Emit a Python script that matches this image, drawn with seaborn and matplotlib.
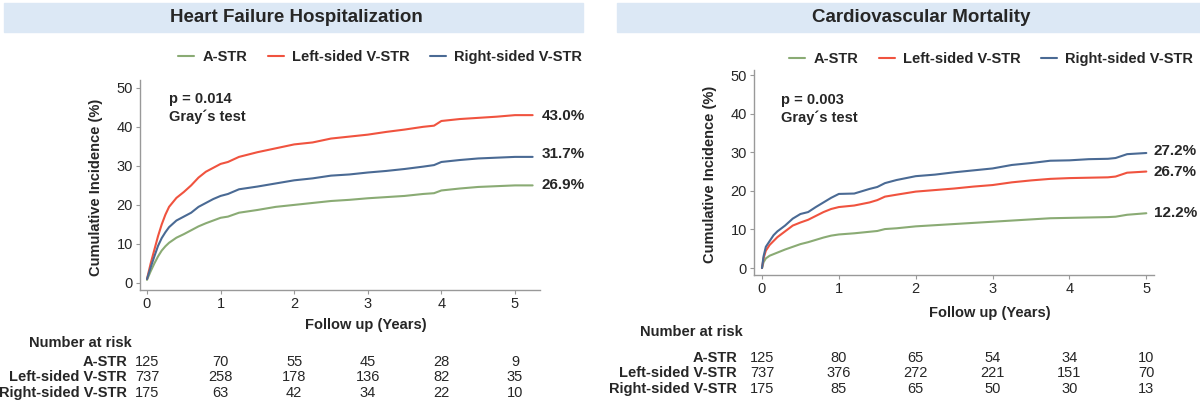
import pandas as pd
import matplotlib
matplotlib.use('Agg')
import matplotlib.pyplot as plt
import seaborn as sns
from matplotlib.patches import Rectangle

groups = ['A-STR', 'Left-sided V-STR', 'Right-sided V-STR']
colors = ['#8aab74', '#f0533f', '#4a6a94']
years = [0, 1, 2, 3, 4, 5]

# Heart failure hospitalization
t_hf = [0, 0.05, 0.1, 0.15, 0.2, 0.25, 0.3, 0.4, 0.5, 0.6, 0.7, 0.8, 0.9, 1.0, 1.1,
        1.25, 1.5, 1.75, 2.0, 2.25, 2.5, 2.75, 3.0, 3.25, 3.5, 3.75, 3.9, 4.0, 4.25,
        4.5, 4.75, 5.0, 5.24]
hf_astr = [0.8, 3, 5, 6.8, 8.3, 9.4, 10.3, 11.6, 12.5, 13.5, 14.5, 15.3, 16, 16.7, 17,
           18, 18.7, 19.5, 20, 20.5, 21, 21.3, 21.7, 22, 22.3, 22.8, 23, 23.7, 24.2,
           24.6, 24.8, 25, 25]
hf_left = [1, 5, 8.5, 12, 15, 17.5, 19.5, 21.8, 23.3, 25, 27, 28.5, 29.5, 30.5, 31,
           32.3, 33.5, 34.5, 35.5, 36, 37, 37.5, 38, 38.7, 39.3, 40, 40.3, 41.5, 42,
           42.3, 42.6, 43, 43]
hf_right = [1, 4, 6.8, 9.5, 11.5, 13, 14.3, 16, 17, 18, 19.5, 20.5, 21.5, 22.3, 22.8,
            24, 24.7, 25.5, 26.3, 26.8, 27.5, 27.8, 28.3, 28.7, 29.2, 29.8, 30.2, 31,
            31.5, 31.9, 32.1, 32.3, 32.3]
hf_end_labels = ['26.9%', '43.0%', '31.7%']
hf_risk = [[125, 70, 55, 45, 28, 9],
           [737, 258, 178, 136, 82, 35],
           [175, 63, 42, 34, 22, 10]]

# Cardiovascular mortality
t_cv = [0, 0.02, 0.05, 0.1, 0.15, 0.2, 0.3, 0.4, 0.5, 0.6, 0.7, 0.8, 0.9, 1.0, 1.2,
        1.4, 1.5, 1.6, 1.75, 2.0, 2.25, 2.5, 2.75, 3.0, 3.25, 3.5, 3.75, 4.0, 4.25,
        4.5, 4.6, 4.75, 5.0]
cv_astr = [0, 1.5, 2.5, 3.2, 3.6, 4, 4.8, 5.5, 6.2, 6.7, 7.3, 7.9, 8.4, 8.7, 9,
           9.4, 9.6, 10.1, 10.3, 10.8, 11.1, 11.4, 11.7, 12, 12.3, 12.6, 12.9, 13,
           13.1, 13.2, 13.3, 13.8, 14.2]
cv_left = [0, 2.5, 4.5, 6, 7, 8, 9.5, 11, 11.8, 12.5, 13.5, 14.5, 15.3, 15.8, 16.2,
           17, 17.6, 18.5, 19, 19.8, 20.2, 20.6, 21.1, 21.5, 22.2, 22.7, 23.1, 23.3,
           23.4, 23.5, 23.7, 24.7, 25]
cv_right = [0, 3, 5.5, 7, 8.5, 9.5, 11, 12.8, 14, 14.5, 15.8, 17, 18.2, 19.2, 19.3,
            20.5, 21, 22, 22.8, 23.8, 24.2, 24.8, 25.3, 25.8, 26.7, 27.2, 27.8, 27.9,
            28.2, 28.3, 28.5, 29.5, 29.8]
cv_end_labels = ['12.2%', '26.7%', '27.2%']
cv_risk = [[125, 80, 65, 54, 34, 10],
           [737, 376, 272, 221, 151, 70],
           [175, 85, 65, 50, 30, 13]]

sns.set_style('white')
plt.rcParams['font.family'] = ['Liberation Sans', 'DejaVu Sans']

W, H = 1200, 403
fig = plt.figure(figsize=(12, 4.03), dpi=100)


def fx(x):
    return x / W


def fy(y):
    return 1 - y / H


def make_df(t, series):
    rows = []
    for g, vals in zip(groups, series):
        for ti, v in zip(t, vals):
            rows.append({'t': ti, 'ci': v, 'group': g})
    return pd.DataFrame(rows)


panels = [
    dict(title='Heart Failure Hospitalization', band=(4, 583), tcx=296,
         box=(140, 540, 80, 290), xlim=(-0.095, 5.34), ylim=(-1.8, 52),
         t=t_hf, series=[hf_astr, hf_left, hf_right], ends=hf_end_labels,
         end_y=[185, 116, 154], end_x=542, legend=(380, 57),
         p='p = 0.014', px=169, py=99, ylab_x=96,
         xlab=(366, 325), risk=hf_risk, nar=(29, 343), row_x=127,
         row_y=[362, 377, 393]),
    dict(title='Cardiovascular Mortality', band=(617, 1200), tcx=921,
         box=(754, 1154, 70, 275), xlim=(-0.104, 5.1), ylim=(-1.8, 51.3),
         t=t_cv, series=[cv_astr, cv_left, cv_right], ends=cv_end_labels,
         end_y=[213, 172, 151], end_x=1154, legend=(991, 59),
         p='p = 0.003', px=781, py=100, ylab_x=710,
         xlab=(990, 313), risk=cv_risk, nar=(640, 332), row_x=737,
         row_y=[358, 373, 389]),
]

for P in panels:
    # title band
    b0, b1 = P['band']
    fig.patches.append(Rectangle((fx(b0), fy(32)), fx(b1 - b0), 29 / H,
                                 transform=fig.transFigure, color='#dce8f5', zorder=0))
    fig.text(fx(P['tcx']), fy(17), P['title'], ha='center', va='center',
             fontsize=13.5, fontweight='bold')

    x0, x1, y0, y1 = P['box']
    ax = fig.add_axes([fx(x0), fy(y1), fx(x1 - x0), (y1 - y0) / H])
    df = make_df(P['t'], P['series'])
    sns.lineplot(data=df, x='t', y='ci', hue='group', palette=colors, ax=ax,
                 linewidth=1.5, errorbar=None)
    ax.set_xlim(*P['xlim'])
    ax.set_ylim(*P['ylim'])
    ax.set_xticks(years)
    ax.set_yticks([0, 10, 20, 30, 40, 50])
    ax.set_xlabel('')
    ax.set_ylabel('')
    for s in ['top', 'right']:
        ax.spines[s].set_visible(False)
    for s in ['left', 'bottom']:
        ax.spines[s].set_color('#999999')
        ax.spines[s].set_linewidth(1)
    ax.tick_params(axis='both', which='both', left=True, bottom=True, length=3,
                   color='#999999', labelsize=10.5, pad=2)

    handles, labels = ax.get_legend_handles_labels()
    ax.get_legend().remove()
    lx, ly = P['legend']
    fig.legend(handles, labels, loc='center', bbox_to_anchor=(fx(lx), fy(ly)),
               ncol=3, frameon=False, handlelength=1.1, columnspacing=1.4,
               handletextpad=0.55, prop={'weight': 'bold', 'size': 10.5})

    for lab, ey in zip(P['ends'], P['end_y']):
        fig.text(fx(P['end_x']), fy(ey), lab, ha='left', va='center',
                 fontsize=11, fontweight='bold')

    fig.text(fx(P['px']), fy(P['py']), P['p'], ha='left', va='center',
             fontsize=10.5, fontweight='bold')
    fig.text(fx(P['px']), fy(P['py'] + 18), 'Gray\u00b4s test', ha='left',
             va='center', fontsize=10.5, fontweight='bold')

    fig.text(fx(P['ylab_x']), fy((y0 + y1) / 2 + 2), 'Cumulative Incidence (%)',
             rotation=90, ha='center', va='center', fontsize=10.5,
             fontweight='bold')
    fig.text(fx(P['xlab'][0]), fy(P['xlab'][1]), 'Follow up (Years)',
             ha='center', va='center', fontsize=10.5, fontweight='bold')

    # number at risk table
    fig.text(fx(P['nar'][0]), fy(P['nar'][1]), 'Number at risk', ha='left',
             va='center', fontsize=10.5, fontweight='bold')
    for g, ry, vals in zip(groups, P['row_y'], P['risk']):
        fig.text(fx(P['row_x']), fy(ry), g, ha='right', va='center',
                 fontsize=10.5, fontweight='bold')
        for yr, v in zip(years, vals):
            xd = ax.transData.transform((yr, 0))[0]
            fig.text(xd / fig.dpi / fig.get_figwidth(), fy(ry), str(v),
                     ha='center', va='center', fontsize=10.5)

fig.savefig('out.png', dpi=100, facecolor='white')
